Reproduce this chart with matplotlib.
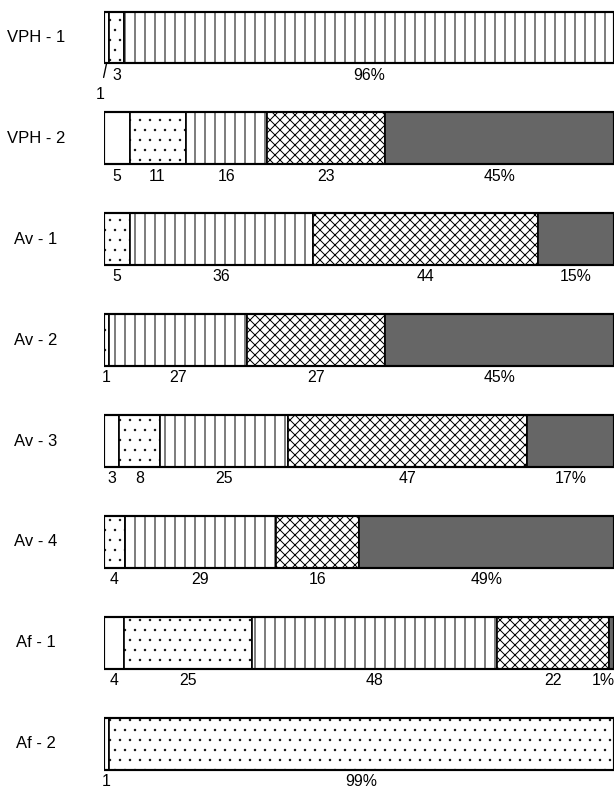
import matplotlib
matplotlib.use("Agg")
import matplotlib.pyplot as plt
import numpy as np

samples = ["VPH - 1", "VPH - 2", "Av - 1", "Av - 2", "Av - 3", "Av - 4", "Af - 1", "Af - 2"]
blank   = [1, 5, 0, 0, 3, 0, 4, 1]
dotted  = [3, 11, 5, 1, 8, 4, 25, 99]
lined   = [96, 16, 36, 27, 25, 29, 48, 0]
hatched = [0, 23, 44, 27, 47, 16, 22, 0]
dark    = [0, 45, 15, 45, 17, 49, 1, 0]

series = [blank, dotted, lined, hatched, dark]
faces = ["white", "white", "white", "white", "#666666"]
hatches = ["", "..", "||", "xxxx", ""]
hatch_lw = [0.6, 0.25, 0.6, 0.6, 0.6]

plt.rcParams["hatch.color"] = "black"
plt.rcParams["font.family"] = ["Liberation Sans", "DejaVu Sans"]

W, H, DPI = 615, 788, 120
fig = plt.figure(figsize=(W / DPI, H / DPI), dpi=DPI)
ax = fig.add_axes([104 / W, 0, 510 / W, 1])

n = len(samples)
y = np.arange(n)
vals = np.array(series, dtype=float)
totals = vals.sum(axis=0)
widths = vals / totals * 100
bar_h = 0.515

left = np.zeros(n)
for k in range(len(series)):
    with plt.rc_context({"hatch.linewidth": hatch_lw[k]}):
        ax.barh(y, widths[k], left=left, height=bar_h, color=faces[k],
                hatch=hatches[k], edgecolor="black", linewidth=1.0)
    left += widths[k]

# outline of each bar
ax.barh(y, left, height=bar_h, color="none", edgecolor="black", linewidth=1.3)

fs_val = 9.5
label_dy = bar_h / 2 + 0.115
for i in range(n):
    cum = 0.0
    nz = [k for k in range(len(series)) if vals[k, i] > 0]
    last = nz[-1]
    for k in range(len(series)):
        v = vals[k, i]
        w = widths[k, i]
        if v <= 0:
            continue
        txt = f"{int(v)}" + ("%" if k == last else "")
        cx = cum + w / 2
        if i == 0 and k == 0:
            ax.annotate(txt, xy=(cum + 0.5, i + bar_h / 2), xytext=(cum - 0.8, i + bar_h / 2 + 0.31),
                        ha="center", va="center", fontsize=fs_val,
                        arrowprops=dict(arrowstyle="-", lw=0.8, color="black",
                                        shrinkA=4, shrinkB=0),
                        annotation_clip=False)
        elif cx > 98.5:
            ax.text(100.1, i + label_dy, txt, ha="right", va="center", fontsize=fs_val,
                    clip_on=False)
        else:
            ax.text(cx, i + label_dy, txt, ha="center", va="center", fontsize=fs_val,
                    clip_on=False)
        cum += w

for i, s in enumerate(samples):
    fig.text(36 / W, 1 - (37.5 + i * 100.9) / H, s, ha="center", va="center", fontsize=10)

ax.set_xlim(0, 100)
ax.set_ylim(7 + 44 / 100.9, -37.5 / 100.9)
ax.axis("off")

fig.savefig("out.png", dpi=DPI)
